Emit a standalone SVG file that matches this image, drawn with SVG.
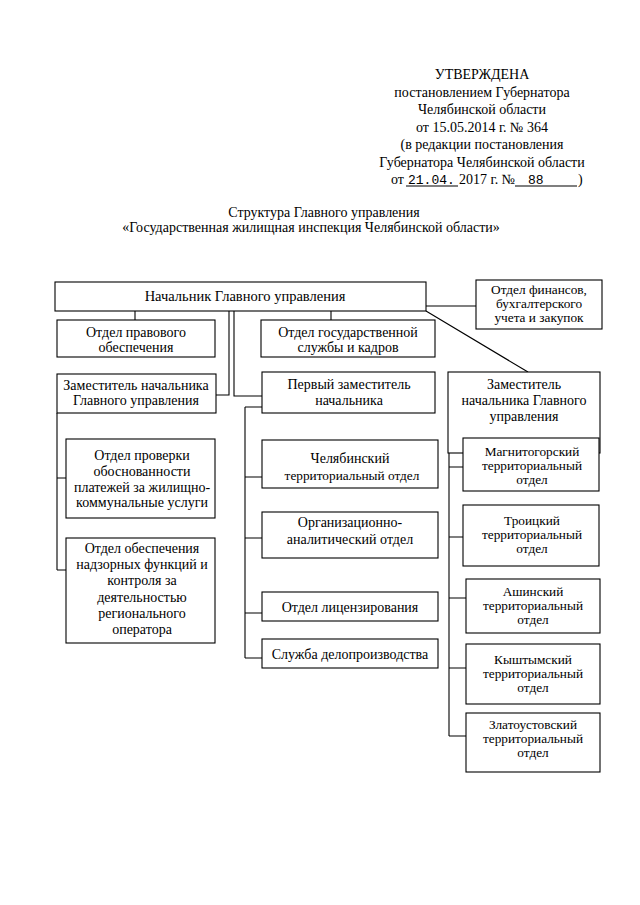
<svg xmlns="http://www.w3.org/2000/svg" width="640" height="905" viewBox="0 0 640 905">
<style>
text{font-family:"Liberation Serif","Times New Roman",serif;font-size:14px;fill:#000}
.c{text-anchor:middle}
.b{font-size:14.5px}
.s{font-size:13.3px}
.m{font-family:"Liberation Mono","Courier New",monospace;font-size:13px}
rect{fill:#fff;stroke:#000;stroke-width:1.1}
.ln{fill:none;stroke:#000;stroke-width:1.1}
</style>
<rect x="0" y="0" width="640" height="905" style="stroke:none"/>
<g id="header">
<text class="c" x="482" y="79">УТВЕРЖДЕНА</text>
<text class="c" x="482" y="97">постановлением Губернатора</text>
<text class="c" x="482" y="114">Челябинской области</text>
<text class="c" x="482" y="132">от 15.05.2014 г. № 364</text>
<text class="c" x="482" y="149">(в редакции постановления</text>
<text class="c" x="482" y="167">Губернатора Челябинской области</text>
<text x="391" y="184">от</text>
<text class="m" x="408" y="184">21.04.</text>
<text x="459" y="184">2017 г. №</text>
<text class="m" x="528" y="184">88</text>
<text x="578" y="184">)</text>
<path class="ln" d="M406 186H458M515 186H577" stroke-width="0.9"/>
</g>
<g id="title">
<text class="c" x="324" y="217">Структура Главного управления</text>
<text class="c" x="311" y="232">«Государственная жилищная инспекция Челябинской области»</text>
</g>
<g id="connectors">
<path class="ln" d="M135 311V320M331 311V320M426 306H476M426 311L528 372"/>
<path class="ln" d="M229 311V395H216M234 311V396H262"/>
<path class="ln" d="M245 407V658M245 407H262M245 477H262M245 538H262M245 613H262M245 658H262"/>
<path class="ln" d="M57 413V570M57 478H66M57 570H66"/>
<path class="ln" d="M449 453V736M449 467H463M449 537H463M449 598H466M449 668H466M449 736H466"/>
</g>
<g id="n-head"><rect x="55" y="282" width="371" height="29"/><text class="c b" x="245" y="301">Начальник Главного управления</text></g>
<g id="n-finance"><rect x="476" y="280" width="126" height="49"/><text class="c s" x="539" y="294">Отдел финансов,</text><text class="c s" x="539" y="308">бухгалтерского</text><text class="c s" x="539" y="322">учета и закупок</text></g>
<g id="n-legal"><rect x="57" y="320" width="158" height="37"/><text class="c" x="136" y="337">Отдел правового</text><text class="c" x="136" y="352">обеспечения</text></g>
<g id="n-hr"><rect x="261" y="320" width="174" height="37"/><text class="c" x="348" y="337">Отдел государственной</text><text class="c" x="348" y="352">службы и кадров</text></g>
<g id="n-dep1"><rect x="57" y="374" width="159" height="39"/><text class="c" x="136" y="390">Заместитель начальника</text><text class="c" x="136" y="405">Главного управления</text></g>
<g id="n-first"><rect x="262" y="372" width="173" height="41"/><text class="c" x="349" y="389">Первый заместитель</text><text class="c" x="349" y="405">начальника</text></g>
<g id="n-dep2"><rect x="448" y="372" width="152" height="81"/><text class="c" x="524" y="389">Заместитель</text><text class="c" x="524" y="405">начальника Главного</text><text class="c" x="524" y="421">управления</text></g>
<g id="n-payments"><rect x="66" y="439" width="149" height="79"/><text class="c" x="142" y="460">Отдел проверки</text><text class="c" x="142" y="476">обоснованности</text><text class="c" x="142" y="492">платежей за жилищно-</text><text class="c" x="142" y="507">коммунальные услуги</text></g>
<g id="n-supervision"><rect x="66" y="538" width="149" height="105"/><text class="c" x="142" y="553">Отдел обеспечения</text><text class="c" x="142" y="569">надзорных функций и</text><text class="c" x="142" y="585">контроля за</text><text class="c" x="142" y="602">деятельностью</text><text class="c" x="142" y="618">регионального</text><text class="c" x="142" y="634">оператора</text></g>
<g id="n-chel"><rect x="262" y="440" width="176" height="48"/><text class="c" x="350" y="463">Челябинский</text><text class="c s" x="352" y="480">территориальный отдел</text></g>
<g id="n-org"><rect x="262" y="512" width="176" height="46"/><text class="c" x="350" y="527">Организационно-</text><text class="c" x="350" y="544">аналитический отдел</text></g>
<g id="n-lic"><rect x="262" y="592" width="176" height="29"/><text class="c" x="350" y="612">Отдел лицензирования</text></g>
<g id="n-office"><rect x="262" y="639" width="176" height="29"/><text class="c" x="350" y="659">Служба делопроизводства</text></g>
<g id="n-magn"><rect x="463" y="438" width="136" height="53"/><text class="c s" x="532" y="456">Магнитогорский</text><text class="c s" x="532" y="470">территориальный</text><text class="c s" x="532" y="484">отдел</text></g>
<g id="n-troitsk"><rect x="463" y="505" width="136" height="61"/><text class="c s" x="532" y="525">Троицкий</text><text class="c s" x="532" y="539">территориальный</text><text class="c s" x="532" y="553">отдел</text></g>
<g id="n-asha"><rect x="466" y="579" width="134" height="54"/><text class="c s" x="533" y="596">Ашинский</text><text class="c s" x="533" y="610">территориальный</text><text class="c s" x="533" y="624">отдел</text></g>
<g id="n-kysht"><rect x="466" y="644" width="134" height="60"/><text class="c s" x="533" y="664">Кыштымский</text><text class="c s" x="533" y="678">территориальный</text><text class="c s" x="533" y="692">отдел</text></g>
<g id="n-zlat"><rect x="466" y="713" width="134" height="59"/><text class="c s" x="533" y="729">Златоустовский</text><text class="c s" x="533" y="743">территориальный</text><text class="c s" x="533" y="757">отдел</text></g>
</svg>
